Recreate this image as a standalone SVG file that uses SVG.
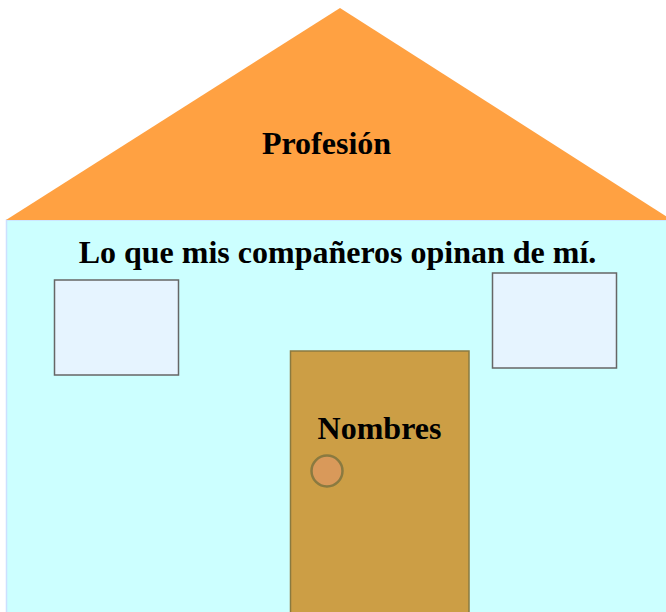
<svg xmlns="http://www.w3.org/2000/svg" width="666" height="612" viewBox="0 0 666 612">
<style>
.t{font-family:"Liberation Serif","Times New Roman",serif;font-weight:bold;font-size:32px;fill:#000;text-anchor:middle}
.win{fill:#e6f4ff;stroke:#666;stroke-width:1.5}
</style>
<rect width="666" height="612" fill="#fff"/>
<g id="body"><rect x="6.5" y="220" width="670" height="400" fill="#ccffff" stroke="#cce0ff" stroke-width="1.5"/></g>
<g id="roof"><polygon points="340,8 6,220 672,220" fill="#ffa142"/>
<text class="t" x="326.5" y="154">Profesión</text></g>
<g id="opinion"><text class="t" x="337.5" y="263">Lo que mis compañeros opinan de mí.</text></g>
<g id="window-left"><rect class="win" x="54.5" y="280" width="124" height="95"/></g>
<g id="window-right"><rect class="win" x="492.5" y="273" width="124" height="95"/></g>
<g id="door"><rect x="290.5" y="351" width="178.5" height="270" fill="#cc9e45" stroke="#8a7a40" stroke-width="1.5"/>
<text class="t" x="379.5" y="439">Nombres</text>
<circle cx="327" cy="471" r="15.5" fill="#d9995a" stroke="#8a7a40" stroke-width="2.5"/></g>
<g id="connectors"/>
</svg>
